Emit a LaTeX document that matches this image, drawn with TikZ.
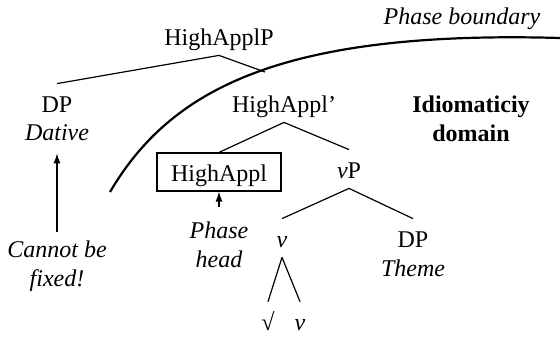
\documentclass[tikz,border=0pt]{standalone}
\usepackage{fontspec}
\setmainfont{Liberation Serif}
\usetikzlibrary{arrows.meta,positioning,calc}

\begin{document}
\fontsize{12}{14.5}\selectfont
\begin{tikzpicture}[x=0.5pt,y=-0.5pt,%
         tiponodo/.style={inner xsep=2pt,inner ysep=3.5pt,text height=10.5pt,text depth=1.5pt},
         tipocaja/.style={tiponodo,draw,line width=0.6pt,inner xsep=7pt},
         tipoetiq/.style={font=\itshape,align=center,inner sep=1pt},
         tiporama/.style={line width=0.6pt},
         tiposeta/.style={-{Latex[length=5pt,width=3.5pt]},line width=0.6pt},
         tipoborde/.style={line width=1.1pt}]
        \useasboundingbox (0,0) rectangle (560,337);
        \node [tiponodo] (hap) at (219,36) {HighApplP};
        \node [tiponodo] (dp1) at (57,103) [label={[tipoetiq,name=dativo]below:Dative}] {DP};
        \node [tiponodo] (hbar) at (284,103) {HighAppl'};
        \node [tipocaja] (caja) at (219,172) {HighAppl};
        \node [tiponodo] (vp) at (349,169) {\textit{v}P};
        \node [tiponodo] (v) at (282,238) {\textit{v}};
        \node [tiponodo] (dp2) at (413,238) [label={[tipoetiq]below:Theme}] {DP};
        \node [tiponodo] (raiz) at (268,321) {√};
        \node [tiponodo] (vmin) at (300,321) {\textit{v}};
        \node [tipoetiq,inner sep=4pt] (fijo) at (57,266) {Cannot be\\fixed!};
        \node [tipoetiq,inner sep=4pt] (fase) at (219,245) {Phase\\head};
        \node [align=center,font=\bfseries] (dominio) at (471,119) {Idiomaticiy\\domain};
        \node [font=\itshape] (frontera) at (462,19) {Phase boundary};
        \coordinate (corte) at (265,72);
        \draw [tiporama] (hap.south) -- (dp1.north);
        \draw [tiporama] (hap.south) -- (corte);
        \draw [tiporama] (hbar.south) -- (caja.north);
        \draw [tiporama] (hbar.south) -- (vp.north);
        \draw [tiporama] (vp.south) -- (v.north);
        \draw [tiporama] (vp.south) -- (dp2.north);
        \draw [tiporama] (v.south) -- (raiz.north);
        \draw [tiporama] (v.south) -- (vmin.north);
        \draw [tiposeta,shorten >=5pt] (fijo.north) -- (dativo.south);
        \draw [tiposeta,shorten <=3.5pt] (fase.north) -- (caja.south);
        \draw [tipoborde] (110,192) .. controls (170,90) and (280,30) .. (560,38);
      \end{tikzpicture}
\end{document}
